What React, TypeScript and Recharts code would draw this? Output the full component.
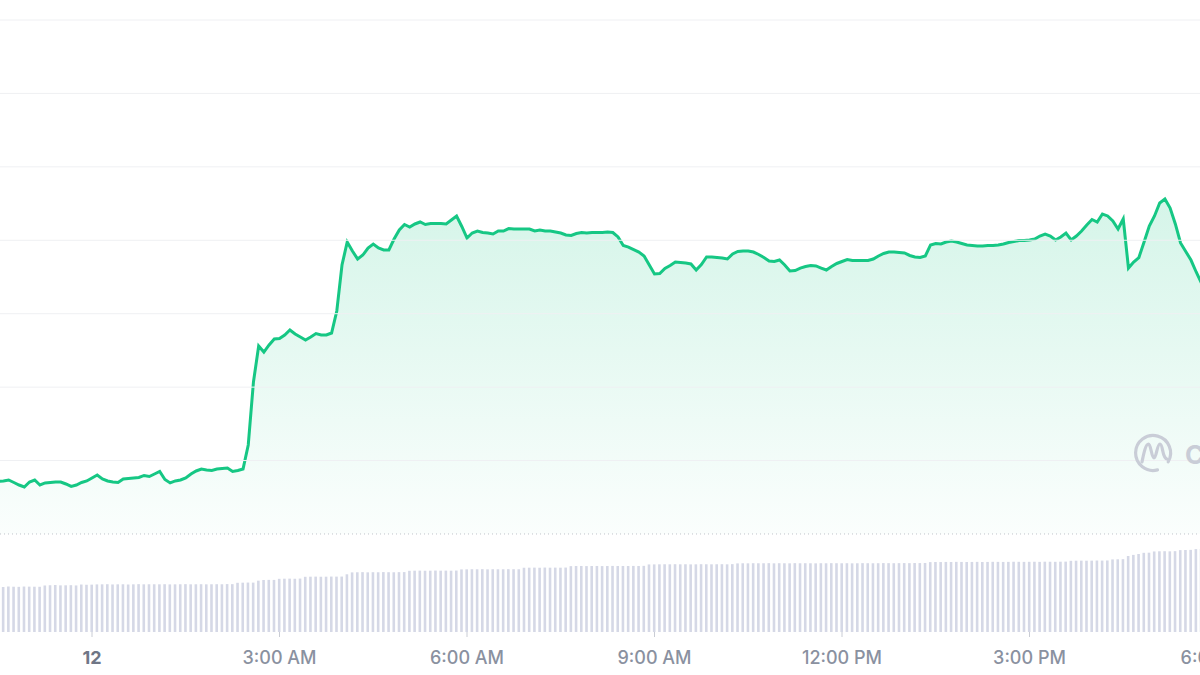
import React from 'react';
import {
  ComposedChart,
  Area,
  Bar,
  XAxis,
  YAxis,
  ReferenceLine,
} from 'recharts';

// minutes from midnight, one sample every 5 minutes
const START_MIN = -90;
const STEP_MIN = 5;

// price (arbitrary units, one grid row = 10)
const prices = [
  7.15, 7.22, 7.35, 7.01, 6.67, 6.40,
  7.08, 7.35, 6.67, 6.95, 7.01, 7.08, 7.08, 6.81, 6.47, 6.67, 7.01, 7.22,
  7.63, 8.03, 7.49, 7.22, 7.08, 7.01, 7.49, 7.56, 7.63, 7.69, 7.97, 7.83,
  8.17, 8.51, 7.42, 6.95, 7.22, 7.35, 7.63, 8.17, 8.58, 8.85, 8.72, 8.65,
  8.85, 8.92, 8.99, 8.51, 8.65, 8.85, 12.12, 20.70, 25.60, 24.78, 25.74, 26.56,
  26.62, 27.10, 27.78, 27.24, 26.83, 26.42, 26.83, 27.30, 27.10, 27.10, 27.37, 30.37,
  36.63, 39.76, 38.54, 37.45, 37.99, 38.95, 39.49, 38.95, 38.68, 38.68, 40.17, 41.40,
  42.15, 41.81, 42.22, 42.49, 42.15, 42.28, 42.28, 42.28, 42.22, 42.76, 43.31, 41.88,
  40.31, 40.99, 41.26, 41.06, 40.99, 40.85, 41.26, 41.26, 41.60, 41.53, 41.53, 41.53,
  41.53, 41.26, 41.40, 41.26, 41.26, 41.13, 40.99, 40.72, 40.65, 40.92, 41.06, 40.99,
  41.06, 41.06, 41.06, 41.13, 41.06, 40.45, 39.29, 39.08, 38.74, 38.40, 37.86, 36.63,
  35.41, 35.47, 36.16, 36.56, 37.04, 36.97, 36.90, 36.77, 35.95, 36.70, 37.72, 37.72,
  37.65, 37.59, 37.45, 38.13, 38.47, 38.54, 38.54, 38.40, 38.06, 37.65, 37.18, 37.11,
  37.31, 36.63, 35.82, 35.88, 36.22, 36.43, 36.56, 36.50, 36.22, 35.95, 36.43, 36.84,
  37.11, 37.38, 37.25, 37.25, 37.25, 37.25, 37.45, 37.86, 38.20, 38.40, 38.40, 38.33,
  38.27, 37.93, 37.72, 37.65, 37.86, 39.36, 39.56, 39.49, 39.76, 39.90, 39.76, 39.56,
  39.36, 39.29, 39.22, 39.22, 39.29, 39.29, 39.36, 39.49, 39.70, 39.83, 39.97, 39.97,
  40.04, 40.17, 40.58, 40.85, 40.58, 40.04, 40.45, 40.99, 40.04, 40.58, 41.26, 42.08,
  42.83, 42.49, 43.58, 43.31, 42.62, 41.53, 42.90, 36.22, 37.04, 37.65, 39.76, 41.94,
  43.31, 45.07, 45.62, 44.39, 42.22, 39.63, 38.47, 37.31, 35.68, 34.18, 32.96,
];

// volume (M)
const volumes = [
  74.0, 73.6, 74.2, 74.0, 73.8, 74.3,
  74.1, 74.0, 73.9, 76.0, 76.4, 76.8, 76.2, 76.3, 76.5, 76.1, 77.6, 77.2,
  77.4, 77.8, 77.9, 78.1, 77.7, 77.9, 78.0, 77.8, 77.9, 78.2, 77.9, 78.0,
  78.0, 77.9, 78.1, 77.8, 77.9, 78.0, 78.2, 77.9, 78.0, 78.1, 77.9, 78.0,
  78.1, 78.0, 78.3, 78.2, 80.4, 80.6, 80.8, 80.7, 83.9, 85.0, 85.2, 85.1,
  86.9, 87.1, 87.2, 87.0, 87.3, 90.2, 90.4, 90.5, 90.3, 90.4, 90.6, 90.5,
  90.6, 94.3, 97.4, 97.6, 97.8, 97.5, 97.7, 97.6, 97.9, 97.7, 97.6, 97.8,
  97.9, 100.0, 100.2, 100.3, 100.1, 100.2, 100.4, 100.2, 100.3, 100.2, 100.4, 102.3,
  102.4, 102.6, 102.5, 102.7, 102.4, 102.6, 102.5, 102.5, 102.7, 102.6, 102.5, 105.0,
  105.1, 105.2, 105.0, 105.3, 105.1, 105.2, 105.1, 105.3, 107.6, 107.8, 107.9, 107.7,
  107.8, 107.9, 107.7, 107.8, 108.0, 107.8, 107.9, 107.8, 108.0, 107.9, 108.1, 110.4,
  110.5, 110.6, 110.7, 110.6, 110.8, 110.6, 110.7, 110.5, 110.6, 110.8, 110.7, 110.6,
  110.7, 110.8, 110.6, 110.9, 112.1, 112.3, 112.2, 112.4, 112.3, 112.3, 112.5, 112.2,
  112.4, 112.3, 112.2, 112.5, 112.3, 112.4, 112.3, 112.2, 112.4, 112.3, 112.5, 112.4,
  112.3, 112.4, 112.2, 112.3, 112.5, 112.4, 112.3, 112.4, 112.6, 112.5, 112.4, 112.5,
  112.6, 112.5, 112.7, 112.6, 112.8, 114.2, 114.4, 114.3, 114.5, 114.4, 114.6, 114.5,
  114.4, 114.5, 114.6, 114.4, 114.5, 114.7, 114.6, 114.5, 114.6, 114.8, 114.7, 114.6,
  114.7, 114.8, 114.6, 114.9, 114.8, 114.7, 114.9, 115.0, 116.3, 116.5, 116.6, 116.5,
  116.6, 116.8, 116.7, 116.9, 118.6, 118.8, 119.0, 124.2, 126.0, 127.5, 129.4, 129.6,
  131.6, 131.9, 132.0, 131.8, 132.1, 133.8, 134.0, 134.2, 135.4, 135.6, 135.8,
];

const tickValues = [0, 180, 360, 540, 720, 900, 1080];
const tickLabels = ['12', '3:00 AM', '6:00 AM', '9:00 AM', '12:00 PM', '3:00 PM', '6:00 PM'];
const gridValues = [10, 20, 30, 40, 50, 60, 70];

const data = prices.map((price, i) => ({
  t: START_MIN + i * STEP_MIN,
  price,
  volume: volumes[i],
}));

const TimeTick = ({ x, y, payload }: any) => {
  const idx = tickValues.indexOf(payload.value);
  const isDay = idx === 0;
  return (
    <text
      x={x}
      y={y + 25}
      textAnchor="middle"
      fontFamily="Inter, sans-serif"
      fontSize={18}
      fontWeight={isDay ? 700 : 500}
      fill={isDay ? '#6f7686' : '#8a91a0'}
    >
      {tickLabels[idx]}
    </text>
  );
};

export default function App() {
  return (
    <div
      style={{
        position: 'fixed',
        left: 0,
        top: 0,
        width: 1200,
        height: 675,
        overflow: 'hidden',
        background: '#ffffff',
      }}
    >
      <ComposedChart
        width={1300}
        height={675}
        data={data}
        margin={{ top: 20, right: 0, left: 0, bottom: 0 }}
      >
        <defs>
          <linearGradient id="priceFill" x1="0" y1="0" x2="0" y2="1">
            <stop offset="0%" stopColor="#16c784" stopOpacity={0.3} />
            <stop offset="100%" stopColor="#16c784" stopOpacity={0.03} />
          </linearGradient>
        </defs>

        <XAxis
          dataKey="t"
          type="number"
          domain={[-88.32, 1159.68]}
          allowDataOverflow
          ticks={tickValues}
          tick={<TimeTick />}
          tickSize={5}
          tickLine={{ stroke: '#c9ccd4' }}
          axisLine={false}
          height={43}
          interval={0}
        />
        <YAxis yAxisId="price" hide domain={[-13.35, 70]} allowDataOverflow />
        <YAxis yAxisId="vol" hide orientation="right" domain={[0, 1000]} />

        {gridValues.map((v) => (
          <ReferenceLine key={v} yAxisId="price" y={v} stroke="#eff0f3" strokeWidth={1} />
        ))}
        <ReferenceLine yAxisId="price" y={0} stroke="#bfc3cb" strokeDasharray="1 3" />

        <Bar
          yAxisId="vol"
          dataKey="volume"
          fill="#d5d8e6"
          barSize={2.6}
          isAnimationActive={false}
        />

        <Area
          yAxisId="price"
          type="linear"
          dataKey="price"
          stroke="#16c784"
          strokeWidth={3}
          fill="url(#priceFill)"
          dot={false}
          activeDot={false}
          isAnimationActive={false}
        />
      </ComposedChart>

      {/* watermark */}
      <svg
        width={1200}
        height={675}
        style={{ position: 'absolute', left: 0, top: 0, pointerEvents: 'none' }}
      >
        <path
          d="M 1168.2 461.8 A 17.5 17.5 0 1 0 1157.5 469.9"
          fill="none"
          stroke="#c9cdd7"
          strokeWidth={3.2}
          strokeLinecap="round"
        />
        <path
          d="M 1142 462 C 1144 452, 1146 444, 1148.5 444 C 1151 444, 1151.5 458, 1154 458 C 1156.5 458, 1157 444, 1160 444 C 1163 444, 1162 458, 1167 459"
          fill="none"
          stroke="#c9cdd7"
          strokeWidth={3.2}
          strokeLinecap="round"
          strokeLinejoin="round"
        />
        <text
          x={1185}
          y={464}
          fontFamily="Inter, sans-serif"
          fontSize={26}
          fontWeight={700}
          fill="#c9cdd7"
        >
          CoinMarketCap
        </text>
      </svg>
    </div>
  );
}
